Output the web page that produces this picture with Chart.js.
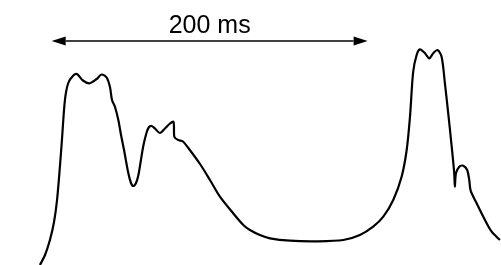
<!DOCTYPE html>
<html>
<head>
<meta charset="utf-8">
<script src="https://cdn.jsdelivr.net/npm/chart.js@4"></script>
<style>
  html, body { margin: 0; padding: 0; background: #fff; }
  #wrap { width: 501px; height: 265px; }
</style>
</head>
<body>
<div id="wrap"><canvas id="wave" width="501" height="265"></canvas></div>
<script>
// time (ms) and amplitude (arbitrary units)
const timeMs = [-7.4, -4.2, -1.1, 1.5, 3.4, 5.3, 6.5, 8.4, 10.5, 13.7, 16.0, 19.8, 23.9, 28.5, 31.6, 34.8,
  36.9, 38.2, 40.1, 42.2, 43.9, 45.8, 48.5, 50.2, 51.6, 53.4, 54.9, 56.5, 58.0, 60.0, 61.6, 63.3,
  65.4, 68.5, 71.7, 74.9, 77.0, 77.4, 77.7, 80.1, 83.1, 86.5, 93.9, 100.2, 106.5, 114.9, 121.3,
  125.5, 131.8, 138.2, 150.8, 167.7, 184.6, 195.1, 203.5, 209.9, 216.2, 221.5, 224.7, 226.8,
  228.8, 231.0, 233.1, 236.3, 239.0, 241.5, 244.2, 246.8, 248.9, 251.0, 253.2, 254.8, 255.2,
  255.9, 258.0, 260.5, 263.0, 264.3, 265.2, 269.0, 273.2, 278.5, 283.7];
const amplitude = [0, 10, 25, 43, 65, 100, 125, 165, 182, 189.5, 191, 184.5, 181.7, 186, 190.5, 187.5,
  178, 165, 158, 145, 130, 115, 92, 82, 79, 82, 90, 105, 119, 132, 138, 139,
  136.5, 132, 136.5, 141.5, 143.3, 139, 128, 125, 123.5, 117, 101, 85, 68.3, 51.7, 40,
  35, 30, 26.7, 24.3, 23.7, 25, 30, 38.3, 48.3, 65, 88.3, 115, 148.3,
  193, 210, 215.7, 211.7, 206.7, 211.7, 215, 208.3, 181.7, 151.7, 118.3, 91.7, 78.3,
  91.7, 98.3, 99.3, 95, 85, 74.3, 61.7, 48.3, 33.3, 25];

// scale bar
const barSpan = [0, 200];
const barLevel = 224;
const barLabel = '200 ms';

const points = timeMs.map((t, i) => ({ x: t, y: amplitude[i] }));

//scale bar plugin
const scaleBar = {
  id: 'scaleBar',
  afterDraw(chart) {
    const ctx = chart.ctx;
    const xs = chart.scales.x, ys = chart.scales.y;
    const x0 = xs.getPixelForValue(barSpan[0]);
    const x1 = xs.getPixelForValue(barSpan[1]);
    const y = ys.getPixelForValue(barLevel);
    const head = 14, half = 4.5;
    ctx.save();
    ctx.strokeStyle = '#000';
    ctx.fillStyle = '#000';
    ctx.lineWidth = 1.6;
    ctx.beginPath();
    ctx.moveTo(x0 + head, y);
    ctx.lineTo(x1 - head, y);
    ctx.stroke();
    ctx.beginPath();
    ctx.moveTo(x0, y);
    ctx.lineTo(x0 + head, y - half);
    ctx.lineTo(x0 + head, y + half);
    ctx.closePath();
    ctx.fill();
    ctx.beginPath();
    ctx.moveTo(x1, y);
    ctx.lineTo(x1 - head, y - half);
    ctx.lineTo(x1 - head, y + half);
    ctx.closePath();
    ctx.fill();
    ctx.font = '25px "Liberation Sans", Arial, sans-serif';
    ctx.textAlign = 'center';
    ctx.textBaseline = 'alphabetic';
    ctx.fillText(barLabel, (x0 + x1) / 2, y - 8);
    ctx.restore();
  }
};

const config = {
  type: 'scatter',
  data: {
    datasets: [{
      data: points,
      showLine: true,
      borderColor: '#000',
      borderWidth: 2.2,
      pointRadius: 0,
      tension: 0.3,
      fill: false
    }]
  },
  options: {
    responsive: false,
    animation: false,
    layout: { padding: 0 },
    plugins: { legend: { display: false }, tooltip: { enabled: false } },
    scales: {
      x: { type: 'linear', min: -32.7, max: 284.4, display: false },
      y: { type: 'linear', min: 0, max: 265, display: false }
    }
  },
  plugins: [scaleBar]
};

const waveChart = new Chart(document.getElementById('wave'), config);
</script>
</body>
</html>
